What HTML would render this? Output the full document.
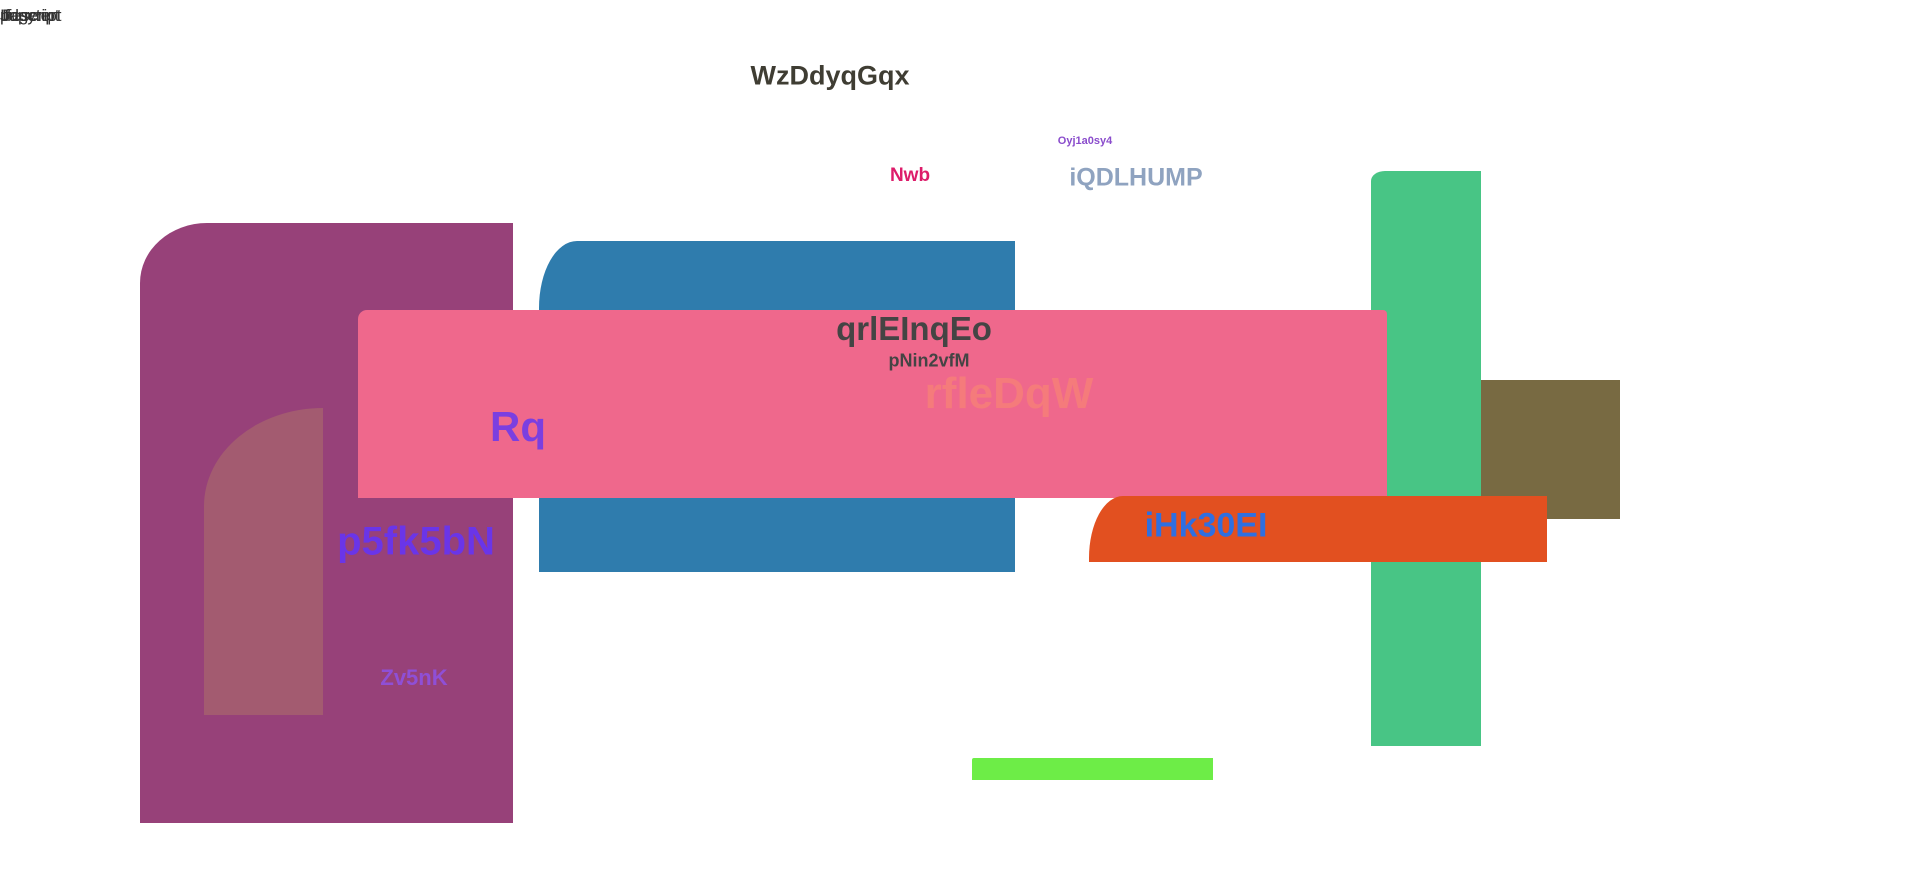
<!DOCTYPE html>
<html><head><meta charset="utf-8"><style>
body{margin:0;width:1920px;height:870px;background:#fff;position:relative;overflow:hidden;font-family:"Liberation Sans",sans-serif}
.b{position:absolute}
.t{position:absolute;font-weight:bold;white-space:nowrap;transform:translate(-50%,-50%)}
.s{position:absolute;left:0;top:6px;font-size:17px;color:#333}
</style></head><body>
<div class="s">Jupyter</div><div class="s">page</div><div class="s">Ifdscript</div><div class="s" style="left:2px">Ifescript</div>
<div class="b" style="left:140px;top:223px;width:373px;height:600px;background:#974179;border-top-left-radius:67px 60px"></div>
<div class="b" style="left:204px;top:408px;width:119px;height:307px;background:#a35b70;border-top-left-radius:119px 98px"></div>
<div class="b" style="left:539px;top:241px;width:476px;height:331px;background:#2f7cad;border-top-left-radius:38px 67px"></div>
<div class="b" style="left:1371px;top:171px;width:110px;height:575px;background:#48c585;border-top-left-radius:14px 10px"></div>
<div class="b" style="left:358px;top:310px;width:1029px;height:188px;background:#ef688c;border-top-left-radius:9px;border-top-right-radius:4px"></div>
<div class="b" style="left:1481px;top:380px;width:139px;height:139px;background:#786a42"></div>
<div class="b" style="left:1089px;top:496px;width:458px;height:66px;background:#e25020;border-top-left-radius:34px 62px"></div>
<div class="b" style="left:972px;top:758px;width:241px;height:22px;background:#6ded47;border-top-left-radius:2px"></div>
<div class="t" style="left:830px;top:76px;font-size:27px;color:#3f3d33">WzDdyqGqx</div>
<div class="t" style="left:1085px;top:141px;font-size:11px;color:#8a4ccc">Oyj1a0sy4</div>
<div class="t" style="left:910px;top:176px;font-size:19px;color:#dd1c6a">Nwb</div>
<div class="t" style="left:1136px;top:178px;font-size:25px;color:#8fa3c0">iQDLHUMP</div>
<div class="t" style="left:914px;top:329px;font-size:33px;color:#444444">qrlEInqEo</div>
<div class="t" style="left:929px;top:361px;font-size:18px;color:#444444">pNin2vfM</div>
<div class="t" style="left:1009px;top:394px;font-size:44px;color:#f57b7b">rfleDqW</div>
<div class="t" style="left:518px;top:427px;font-size:42px;color:#7b3fe0">Rq</div>
<div class="t" style="left:416px;top:542px;font-size:40px;color:#6a35e8">p5fk5bN</div>
<div class="t" style="left:414px;top:678px;font-size:22px;color:#8f4fd6">Zv5nK</div>
<div class="t" style="left:1206px;top:526px;font-size:34px;color:#2f6fe0">iHk30EI</div>
</body></html>
